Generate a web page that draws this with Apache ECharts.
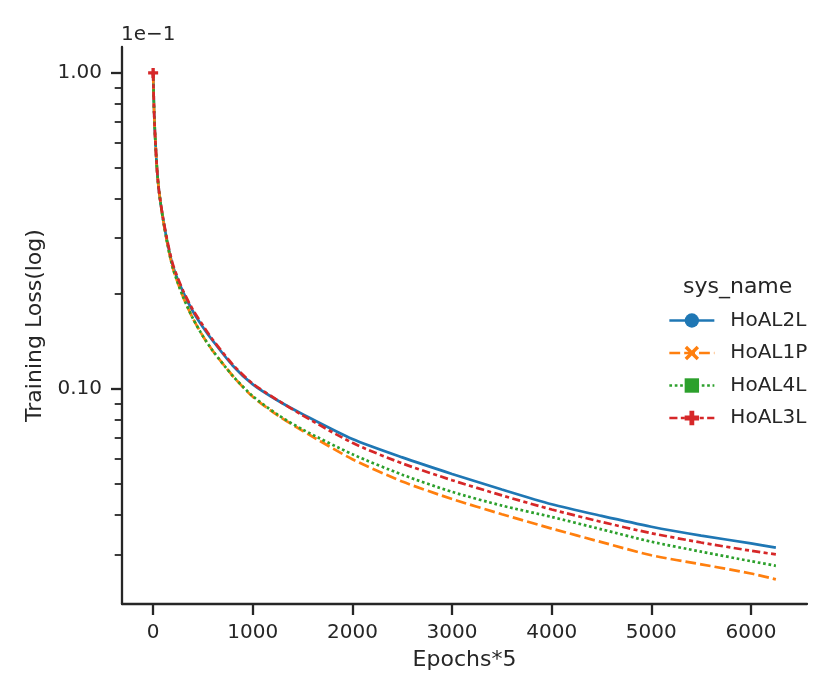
<!DOCTYPE html>
<html><head><meta charset="utf-8">
<script src="https://cdn.jsdelivr.net/npm/echarts@6/dist/echarts.min.js"></script>
<style>html,body{margin:0;padding:0;background:#fff;}#c{width:831px;height:699px;}</style>
</head><body><div id="c"></div>
<script>
// ---- data (loss values shown in units of 1e-1, as on the y axis) ----
const seriesNames = ['HoAL2L', 'HoAL1P', 'HoAL4L', 'HoAL3L'];
const epochs = [0, 10, 20, 40, 60, 100, 150, 200, 300, 400, 500, 600, 800, 1000, 1250, 1500, 2000, 2500, 3000, 3500, 4000, 4500, 5000, 5500, 6000, 6250];
const lossHoAL2L = [1.0, 0.75, 0.63, 0.49, 0.42, 0.345, 0.284, 0.244, 0.203, 0.176, 0.157, 0.142, 0.1185, 0.1035, 0.0920, 0.0833, 0.0695, 0.0608, 0.0539, 0.0481, 0.0432, 0.0397, 0.0367, 0.0344, 0.0325, 0.0315];
const lossHoAL1P = [1.0, 0.75, 0.63, 0.49, 0.42, 0.343, 0.281, 0.240, 0.196, 0.167, 0.147, 0.132, 0.110, 0.0945, 0.0826, 0.0738, 0.0600, 0.0510, 0.0449, 0.0402, 0.0362, 0.0328, 0.0298, 0.0279, 0.0261, 0.0250];
const lossHoAL4L = [1.0, 0.75, 0.63, 0.49, 0.42, 0.343, 0.281, 0.240, 0.196, 0.167, 0.147, 0.132, 0.110, 0.0950, 0.0830, 0.0745, 0.0622, 0.0536, 0.0473, 0.0428, 0.0394, 0.0360, 0.0329, 0.0306, 0.02855, 0.0276];
const lossHoAL3L = [1.0, 0.75, 0.63, 0.49, 0.42, 0.347, 0.287, 0.247, 0.205, 0.178, 0.159, 0.143, 0.1195, 0.1040, 0.0922, 0.0826, 0.0676, 0.0582, 0.0515, 0.0461, 0.0416, 0.0380, 0.0350, 0.0327, 0.0308, 0.0300];
const xTickValues = [0, 1000, 2000, 3000, 4000, 5000, 6000];
const yMajorTickValues = [0.1, 1.0];
const yMinorTickValues = [0.03, 0.04, 0.05, 0.06, 0.07, 0.08, 0.09, 0.2, 0.3, 0.4, 0.5, 0.6, 0.7, 0.8, 0.9];
const yOffsetText = '1e\u22121';
const xAxisTitle = 'Epochs*5';
const yAxisTitle = 'Training Loss(log)';
const legendTitle = 'sys_name';

// ---- styling ----
const FONT = 'DejaVu Sans';
const INK = '#262626';
const LW = 2.7;
const colors = ['#1f77b4', '#ff7f0e', '#2ca02c', '#d62728'];
const dashes = ['solid', [4 * LW, 1.5 * LW], [LW, LW], [3 * LW, 1.25 * LW, 1.5 * LW, 1.25 * LW]];
const symbols = [
  'circle',
  'path://M-3,-2 L-2,-3 L0,-1 L2,-3 L3,-2 L1,0 L3,2 L2,3 L0,1 L-2,3 L-3,2 L-1,0 Z',
  'rect',
  'path://M-1,-3 L1,-3 L1,-1 L3,-1 L3,1 L1,1 L1,3 L-1,3 L-1,1 L-3,1 L-3,-1 L-1,-1 Z'
];
const lossSets = [lossHoAL2L, lossHoAL1P, lossHoAL4L, lossHoAL3L];
const lastIdx = seriesNames.length - 1;

const series = seriesNames.map((name, k) => ({
  name,
  type: 'line',
  data: epochs.map((x, i) => [x, lossSets[k][i]]),
  xAxisIndex: 0,
  yAxisIndex: 0,
  symbol: symbols[k],
  symbolSize: (v, p) => (p.dataIndex === 0 && k === lastIdx ? 10 : 0),
  showSymbol: true,
  showAllSymbol: true,
  smooth: 0.25,
  lineStyle: { color: colors[k], width: LW, type: dashes[k], cap: 'butt' },
  itemStyle: { color: colors[k], borderWidth: 0 },
  emphasis: { disabled: true },
  animation: false
}));

const chart = echarts.init(document.getElementById('c'), null, { renderer: 'canvas' });
chart.setOption({
  backgroundColor: '#ffffff',
  animation: false,
  textStyle: { fontFamily: FONT, color: INK },
  title: [
    { text: yOffsetText, left: 116, top: 20, padding: 5,
      textStyle: { fontFamily: FONT, fontSize: 20, fontWeight: 'normal', color: INK } },
    { text: legendTitle, left: 678, top: 271, padding: 5,
      textStyle: { fontFamily: FONT, fontSize: 22, fontWeight: 'normal', color: INK } }
  ],
  legend: {
    data: seriesNames,
    orient: 'vertical',
    left: 663,
    top: 305.5,
    padding: 5,
    itemWidth: 45,
    itemHeight: 18,
    itemGap: 12.5,
    selectedMode: false,
    lineStyle: { width: LW },
    itemStyle: { borderWidth: 0 },
    textStyle: { fontFamily: FONT, fontSize: 20, color: INK, padding: [0, 0, 0, 11] }
  },
  grid: { left: 122, right: 24, top: 47, bottom: 95, containLabel: false, outerBoundsMode: 'none' },
  xAxis: {
    type: 'value',
    min: -312.5,
    max: 6562.5,
    name: xAxisTitle,
    nameLocation: 'middle',
    nameGap: 45,
    nameTextStyle: { fontFamily: FONT, fontSize: 22, color: INK },
    axisLine: { show: true, onZero: false, lineStyle: { color: INK, width: 2.3 } },
    axisTick: { show: true, customValues: xTickValues, length: 11, lineStyle: { color: INK, width: 2.3 } },
    axisLabel: { show: true, customValues: xTickValues, margin: 19, fontFamily: FONT, fontSize: 20, color: INK,
      formatter: v => String(Math.round(v)) },
    splitLine: { show: false }
  },
  yAxis: [
    {
      type: 'log',
      logBase: 10,
      min: 0.0209,
      max: 1.208,
      name: yAxisTitle,
      nameLocation: 'middle',
      nameGap: 73,
      nameTextStyle: { fontFamily: FONT, fontSize: 22, color: INK },
      axisLine: { show: true, onZero: false, lineStyle: { color: INK, width: 2.3 } },
      axisTick: { show: true, customValues: yMajorTickValues, length: 11, lineStyle: { color: INK, width: 2.3 } },
      axisLabel: { show: true, customValues: yMajorTickValues, margin: 20, fontFamily: FONT, fontSize: 20, color: INK,
        formatter: v => Number(v).toFixed(2) },
      splitLine: { show: false },
      minorTick: { show: false }
    },
    {
      type: 'log',
      logBase: 10,
      min: 0.0209,
      max: 1.208,
      position: 'left',
      axisLine: { show: false, onZero: false },
      axisTick: { show: true, customValues: yMinorTickValues, length: 7.3, lineStyle: { color: INK, width: 1.8 } },
      axisLabel: { show: false },
      splitLine: { show: false }
    }
  ],
  series
});
</script>
</body></html>
